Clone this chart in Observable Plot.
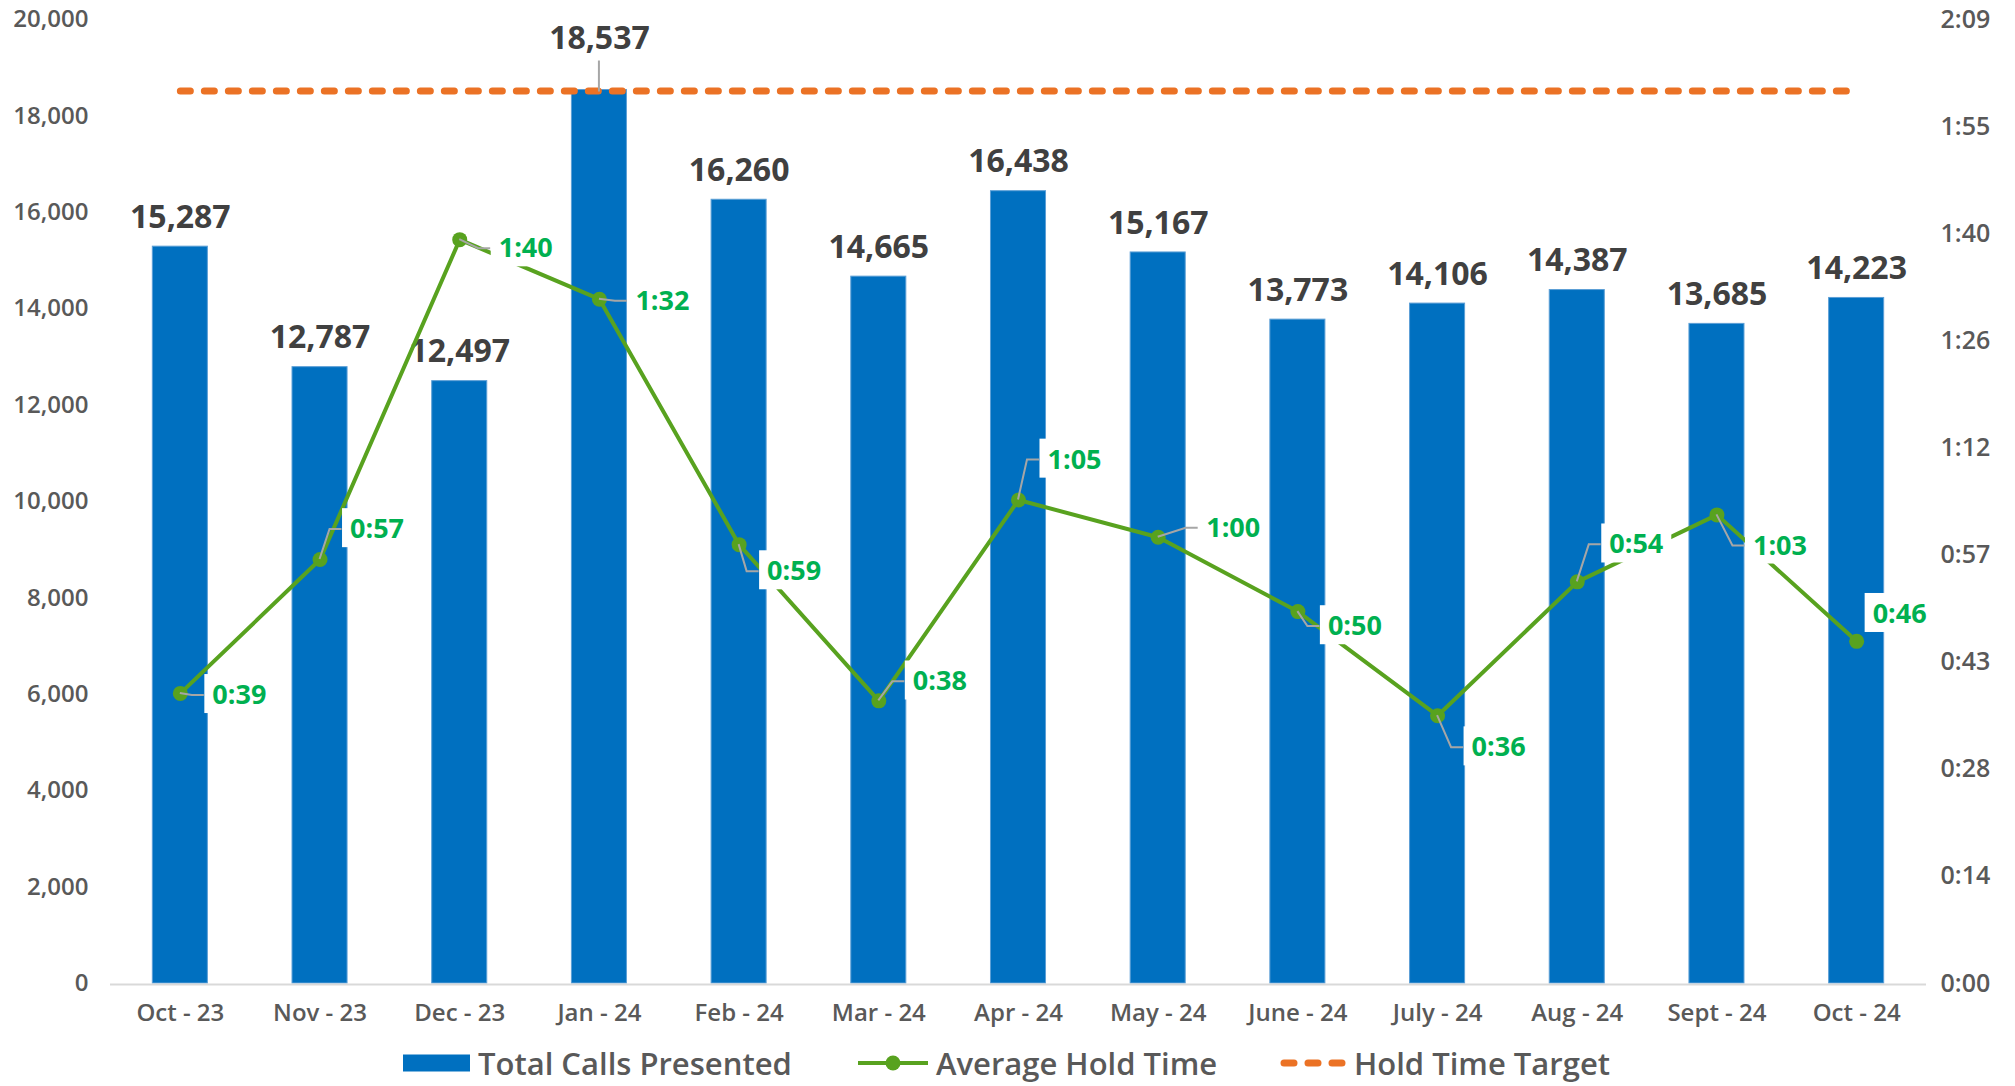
<!DOCTYPE html>
<html>
<head>
<meta charset="utf-8">
<script src="https://cdn.jsdelivr.net/npm/d3@7"></script>
<script src="https://cdn.jsdelivr.net/npm/@observablehq/plot@0.6"></script>
<style>
html, body { margin: 0; padding: 0; background: #fff; }
#chart { position: relative; width: 2015px; height: 1086px; font-family: "Open Sans", sans-serif; overflow: hidden; }
#legend { position: absolute; left: 0; top: 1040px; width: 2015px; height: 46px; }
.li { position: absolute; top: 6px; height: 34px; line-height: 34px; display: flex; align-items: center; font-size: 31px; font-weight: 600; color: #595959; white-space: nowrap; }
.li svg { display: block; margin-right: 8px; }
</style>
</head>
<body>
<div id="chart"></div>
<script>
// ---------- data ----------
const months = ["Oct - 23", "Nov - 23", "Dec - 23", "Jan - 24", "Feb - 24", "Mar - 24", "Apr - 24",
                "May - 24", "June - 24", "July - 24", "Aug - 24", "Sept - 24", "Oct - 24"];
const totalCalls = [15287, 12787, 12497, 18537, 16260, 14665, 16438, 15167, 13773, 14106, 14387, 13685, 14223];
const holdSeconds = [39, 57, 100, 92, 59, 38, 65, 60, 50, 36, 54, 63, 46];
const holdTargetSeconds = 120;
const leftTicks = [0, 2000, 4000, 6000, 8000, 10000, 12000, 14000, 16000, 18000, 20000];
const rightTickSeconds = [0, 14.4, 28.8, 43.2, 57.6, 72, 86.4, 100.8, 115.2, 129.6];
const rightTickLabels = ["0:00", "0:14", "0:28", "0:43", "0:57", "1:12", "1:26", "1:40", "1:55", "2:09"];
const seriesNames = ["Total Calls Presented", "Average Hold Time", "Hold Time Target"];

// ---------- layout (label placement, px) ----------
const holdLabelOffsets = [[59, 2], [57, -30], [66, 9], [63, 2], [55, 27], [61, -19], [56, -40],
                          [75, -9], [57, 15], [61, 32], [59, -37], [63, 31], [43, -27]];
const barLabelDy = [-29, -29, -29, -51, -29, -29, -29, -29, -29, -29, -29, -29, -29];

// ---------- helpers ----------
const leftMax = 20000, rightMax = 129.6;
const toLeft = s => s * leftMax / rightMax;
const fmtTime = s => `${Math.floor(s / 60)}:${String(Math.round(s % 60)).padStart(2, "0")}`;
const rightLabelByValue = new Map(rightTickSeconds.map((s, i) => [toLeft(s), rightTickLabels[i]]));

const rows = months.map((m, i) => ({
  month: m, calls: totalCalls[i], hold: holdSeconds[i], holdY: toLeft(holdSeconds[i]),
  target: toLeft(holdTargetSeconds), label: fmtTime(holdSeconds[i]), i
}));

const blue = "#0070C0", green = "#58A21F", labelGreen = "#00B050", orange = "#EB7225", barText = "#404040";

const plot = Plot.plot({
  width: 2015, height: 1040,
  marginLeft: 110, marginRight: 89, marginTop: 19, marginBottom: 57,
  style: "font-family:'Open Sans',sans-serif;font-size:24px;font-weight:600;color:#595959;background:#fff;",
  x: {type: "band", domain: months, paddingInner: 0.606, paddingOuter: 0.303, round: false},
  y: {domain: [0, leftMax]},
  marks: [
    Plot.axisY({ticks: leftTicks, tickFormat: d3.format(","), tickSize: 0, tickPadding: 22, label: null}),
    Plot.axisY({anchor: "right", ticks: rightTickSeconds.map(toLeft), tickFormat: d => rightLabelByValue.get(d),
                tickSize: 0, tickPadding: 14, label: null, fontSize: 25, letterSpacing: 1}),
    Plot.axisX({tickSize: 0, tickPadding: 20, label: null}),
    Plot.barY(rows, {x: "month", y: "calls", fill: blue, stroke: "#5C9FD6", strokeWidth: 1}),
    Plot.ruleY([0], {stroke: "#D9D9D9", strokeWidth: 2, dy: 1}),
    Plot.lineY(rows, {x: "month", y: "target", stroke: orange, strokeWidth: 7,
                      strokeDasharray: "10,14", strokeLinecap: "round"}),
    ...rows.map(r => Plot.text([r], {x: "month", y: "calls", text: d => d3.format(",")(d.calls),
                  dy: barLabelDy[r.i], fontSize: 32, fontWeight: 700, fill: barText})),
    Plot.lineY(rows, {x: "month", y: "holdY", stroke: green, strokeWidth: 4}),
    Plot.dot(rows, {x: "month", y: "holdY", r: 7.5, fill: green}),
    ...rows.map(r => Plot.text([r], {x: "month", y: "holdY", text: "label",
                  dx: holdLabelOffsets[r.i][0], dy: holdLabelOffsets[r.i][1],
                  fontSize: 27, fontWeight: 700, fill: labelGreen}))
  ]
});

document.getElementById("chart").appendChild(plot);

// ---------- leaders and label boxes, positioned with Plot's own scales ----------
const NS = "http://www.w3.org/2000/svg";
const xs = plot.scale("x"), ys = plot.scale("y");
const cx = m => xs.apply(m) + xs.bandwidth / 2;
const holdGroups = Array.from(plot.querySelectorAll("g")).filter(g => (g.getAttribute("fill") || "").toUpperCase() === labelGreen && g.querySelector("text"));
const barGroups = Array.from(plot.querySelectorAll("g")).filter(g => g.getAttribute("fill") === barText && g.querySelector("text"));

if (holdGroups.length) {
  const leaderG = document.createElementNS(NS, "g");
  holdGroups[0].parentNode.insertBefore(leaderG, holdGroups[0]);

  holdGroups.forEach((g, k) => {
    const r = rows[k];
    const t = g.querySelector("text");
    const bb = t.getBBox();
    const padX = 8, padY = 1;
    const rect = document.createElementNS(NS, "rect");
    rect.setAttribute("x", bb.x - padX);
    rect.setAttribute("y", bb.y - padY);
    rect.setAttribute("width", bb.width + 2 * padX);
    rect.setAttribute("height", bb.height + 2 * padY);
    rect.setAttribute("fill", "#fff");
    if (t.getAttribute("transform")) rect.setAttribute("transform", t.getAttribute("transform"));
    t.parentNode.insertBefore(rect, t);

    const px = cx(r.month), py = ys.apply(r.holdY);
    const tx = px + holdLabelOffsets[k][0], ty = py + holdLabelOffsets[k][1];
    const boxLeft = tx - bb.width / 2 - padX;
    if (boxLeft - px > 12) {
      d3.select(leaderG).append("path")
        .attr("d", `M${px},${py}L${boxLeft - 12},${ty}L${boxLeft},${ty}`)
        .attr("fill", "none").attr("stroke", "#A6A6A6").attr("stroke-width", 2);
    }
  });
}

// leader for raised bar labels
barGroups.forEach((g, k) => {
  const r = rows[k];
  if (r && barLabelDy[k] < -40) {
    const px = cx(r.month), py = ys.apply(r.calls);
    const p = document.createElementNS(NS, "path");
    p.setAttribute("d", `M${px},${py + 2}L${px},${py + barLabelDy[k] + 22}`);
    p.setAttribute("stroke", "#A6A6A6");
    p.setAttribute("stroke-width", 2);
    g.parentNode.insertBefore(p, g);
  }
});

// ---------- legend ----------
const legend = document.createElement("div");
legend.id = "legend";
legend.innerHTML = `
  <div class="li" style="left:403px">
    <svg width="67" height="34"><rect x="0" y="8.5" width="67" height="17" fill="${blue}"/></svg>${seriesNames[0]}</div>
  <div class="li" style="left:858px">
    <svg width="70" height="34"><line x1="0" x2="70" y1="17" y2="17" stroke="${green}" stroke-width="4"/>
      <circle cx="35" cy="17" r="7.5" fill="${green}"/></svg>${seriesNames[1]}</div>
  <div class="li" style="left:1280px">
    <svg width="66" height="34"><line x1="4" x2="62" y1="17" y2="17" stroke="${orange}" stroke-width="7"
      stroke-dasharray="10,14" stroke-linecap="round"/></svg>${seriesNames[2]}</div>`;
document.getElementById("chart").appendChild(legend);
</script>
</body>
</html>
